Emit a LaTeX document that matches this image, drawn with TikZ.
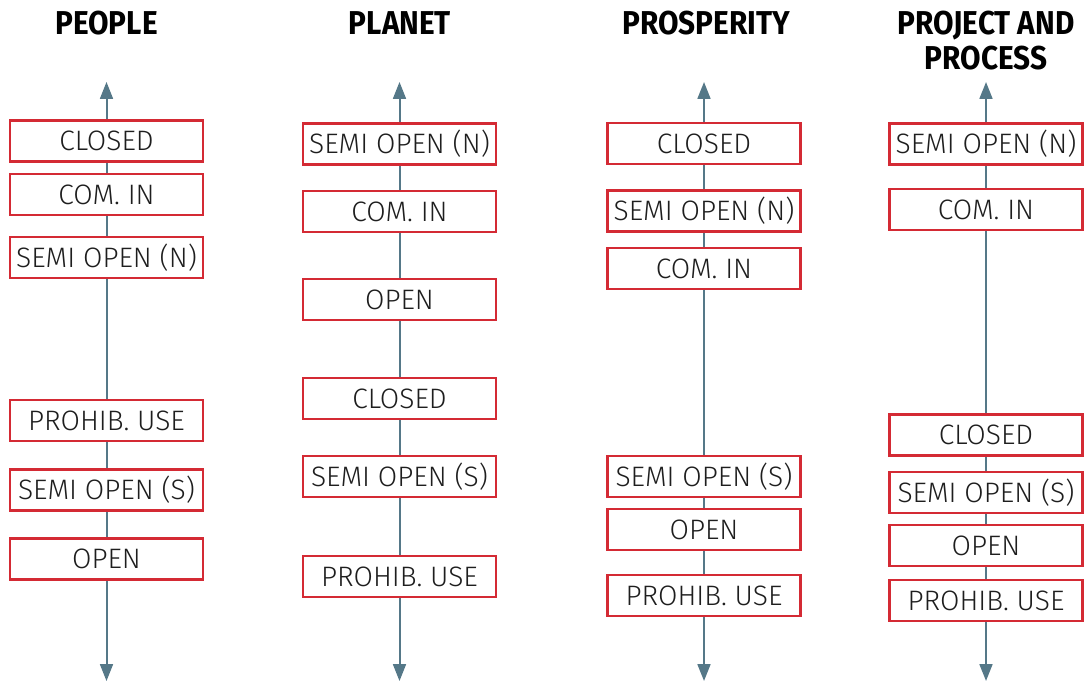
\documentclass[tikz,border=0pt]{standalone}
\usepackage{fontspec}
\setmainfont{Fira Sans}
\newfontfamily\boxfont{Fira Sans Light}
\newfontfamily\titlefont{Fira Sans}[FakeStretch=0.9]
\usetikzlibrary{arrows.meta}
\definecolor{boxred}{RGB}{212,42,52}
\definecolor{axisgray}{RGB}{85,120,136}
\definecolor{textgray}{RGB}{30,30,30}
\tikzset{
  stbox/.style={draw=boxred, line width=0.065cm, fill=white, minimum width=4.825cm,
    minimum height=1.025cm, inner sep=0pt, text=textgray,
    font=\boxfont\fontsize{20}{20}\selectfont},
  axis/.style={draw=axisgray, line width=0.05cm,
    {Triangle[length=0.42cm,width=0.32cm]}-{Triangle[length=0.42cm,width=0.32cm]}},
  coltitle/.style={align=center, text=black, font=\titlefont\bfseries\fontsize{23.5}{24.9}\selectfont}
}
\begin{document}
\begin{tikzpicture}
                \useasboundingbox (0,0) rectangle (27.125000,17.050000);
                
                % Titles
                \node (tpeople) [coltitle] at (2.662500,16.475000) {PEOPLE};
                \node (tplanet) [coltitle] at (10.000000,16.475000) {PLANET};
                \node (tprosp) [coltitle] at (17.650000,16.475000) {PROSPERITY};
                \node (tproject) [coltitle] at (24.650000,16.037500) {PROJECT AND\\PROCESS};
                
                % Axis ends
                \coordinate (peopletop) at (2.662500,15.000000);
                \coordinate (peoplebot) at (2.662500,0.025000);
                \coordinate (planettop) at (9.987500,15.000000);
                \coordinate (planetbot) at (9.987500,0.025000);
                \coordinate (prosptop) at (17.600000,15.000000);
                \coordinate (prospbot) at (17.600000,0.025000);
                \coordinate (projecttop) at (24.650000,15.000000);
                \coordinate (projectbot) at (24.650000,0.025000);
                
                % Drawing axes
                \draw [axis] (peoplebot) -- (peopletop);%
                \draw [axis] (planetbot) -- (planettop);%
                \draw [axis] (prospbot) -- (prosptop);%
                \draw [axis] (projectbot) -- (projecttop);%
                
                % Boxes of People
                \node (pe1) [stbox] at (2.662500,13.525000) {CLOSED};
                \node (pe2) [stbox] at (2.662500,12.187500) {COM. IN};
                \node (pe3) [stbox] at (2.662500,10.612500) {SEMI OPEN (N)};
                \node (pe4) [stbox] at (2.662500,6.537500) {PROHIB. USE};
                \node (pe5) [stbox] at (2.662500,4.800000) {SEMI OPEN (S)};
                \node (pe6) [stbox] at (2.662500,3.075000) {OPEN};
                
                % Boxes of Planet
                \node (pl1) [stbox] at (9.987500,13.450000) {SEMI OPEN (N)};
                \node (pl2) [stbox] at (9.987500,11.762500) {COM. IN};
                \node (pl3) [stbox] at (9.987500,9.562500) {OPEN};
                \node (pl4) [stbox] at (9.987500,7.087500) {CLOSED};
                \node (pl5) [stbox] at (9.987500,5.137500) {SEMI OPEN (S)};
                \node (pl6) [stbox] at (9.987500,2.637500) {PROHIB. USE};
                
                % Boxes of Prosperity
                \node (pr1) [stbox] at (17.600000,13.462500) {CLOSED};
                \node (pr2) [stbox] at (17.600000,11.775000) {SEMI OPEN (N)};
                \node (pr3) [stbox] at (17.600000,10.337500) {COM. IN};
                \node (pr4) [stbox] at (17.600000,5.137500) {SEMI OPEN (S)};
                \node (pr5) [stbox] at (17.600000,3.812500) {OPEN};
                \node (pr6) [stbox] at (17.600000,2.162500) {PROHIB. USE};
                
                % Boxes of Project and process
                \node (pp1) [stbox] at (24.650000,13.450000) {SEMI OPEN (N)};
                \node (pp2) [stbox] at (24.650000,11.812500) {COM. IN};
                \node (pp3) [stbox] at (24.650000,6.175000) {CLOSED};
                \node (pp4) [stbox] at (24.650000,4.737500) {SEMI OPEN (S)};
                \node (pp5) [stbox] at (24.650000,3.412500) {OPEN};
                \node (pp6) [stbox] at (24.650000,2.037500) {PROHIB. USE};
\end{tikzpicture}
\end{document}
